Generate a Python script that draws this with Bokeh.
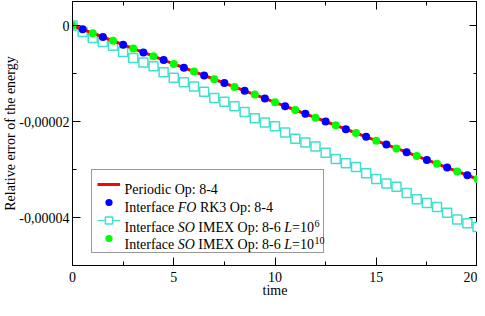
from bokeh.plotting import figure
from bokeh.models import (Range1d, LinearAxis, SingleIntervalTicker, CustomJSTickFormatter,
                          Legend, LegendItem, Label)
from bokeh.embed import file_html
from bokeh.resources import INLINE

time_all = [0, 0.5, 1, 1.5, 2, 2.5, 3, 3.5, 4, 4.5, 5, 5.5, 6, 6.5, 7, 7.5, 8, 8.5, 9, 9.5,
            10, 10.5, 11, 11.5, 12, 12.5, 13, 13.5, 14, 14.5, 15, 15.5, 16, 16.5, 17, 17.5,
            18, 18.5, 19, 19.5, 20]
periodic = [0, -0.8e-6, -1.6e-6, -2.4e-6, -3.2e-6, -4.0e-6, -4.8e-6, -5.6e-6, -6.4e-6, -7.2e-6,
            -8.0e-6, -8.8e-6, -9.6e-6, -1.04e-5, -1.12e-5, -1.2e-5, -1.28e-5, -1.36e-5, -1.44e-5,
            -1.52e-5, -1.6e-5, -1.68e-5, -1.76e-5, -1.84e-5, -1.92e-5, -2.0e-5, -2.08e-5,
            -2.16e-5, -2.24e-5, -2.32e-5, -2.4e-5, -2.48e-5, -2.56e-5, -2.64e-5, -2.72e-5,
            -2.8e-5, -2.88e-5, -2.96e-5, -3.04e-5, -3.12e-5, -3.2e-5]

time_fo = [0.5, 1.5, 2.5, 3.5, 4.5, 5.5, 6.5, 7.5, 8.5, 9.5, 10.5, 11.5, 12.5, 13.5, 14.5,
           15.5, 16.5, 17.5, 18.5, 19.5]
fo_rk3 = [-0.8e-6, -2.4e-6, -4.0e-6, -5.6e-6, -7.2e-6, -8.8e-6, -1.04e-5, -1.2e-5, -1.36e-5,
          -1.52e-5, -1.68e-5, -1.84e-5, -2.0e-5, -2.16e-5, -2.32e-5, -2.48e-5, -2.64e-5,
          -2.8e-5, -2.96e-5, -3.12e-5]

so_l6 = [0, -1.34e-6, -2.6e-6, -3.45e-6, -4.2e-6, -5.5e-6, -6.75e-6, -7.7e-6, -8.5e-6, -9.76e-6,
         -1.09e-5, -1.18e-5, -1.27e-5, -1.38e-5, -1.51e-5, -1.59e-5, -1.68e-5, -1.80e-5,
         -1.93e-5, -2.02e-5, -2.10e-5, -2.23e-5, -2.36e-5, -2.44e-5, -2.52e-5, -2.65e-5,
         -2.78e-5, -2.87e-5, -2.95e-5, -3.08e-5, -3.20e-5, -3.29e-5, -3.36e-5, -3.49e-5,
         -3.62e-5, -3.70e-5, -3.78e-5, -3.90e-5, -4.04e-5, -4.12e-5, -4.20e-5]

time_so10 = [0, 1, 2, 3, 4, 5, 6, 7, 8, 9, 10, 11, 12, 13, 14, 15, 16, 17, 18, 19, 20]
so_l10 = [0, -1.6e-6, -3.2e-6, -4.8e-6, -6.4e-6, -8.0e-6, -9.6e-6, -1.12e-5, -1.28e-5,
          -1.44e-5, -1.6e-5, -1.76e-5, -1.92e-5, -2.08e-5, -2.24e-5, -2.4e-5, -2.56e-5,
          -2.72e-5, -2.88e-5, -3.04e-5, -3.2e-5]

# legend labels as (text, italic, superscript) segments
legend_labels = [
    [("Periodic Op: 8-4", False, False)],
    [("Interface ", False, False), ("FO", True, False), (" RK3 Op: 8-4", False, False)],
    [("Interface ", False, False), ("SO", True, False), (" IMEX Op: 8-6 ", False, False),
     ("L", True, False), ("=10", False, False), ("6", False, True)],
    [("Interface ", False, False), ("SO", True, False), (" IMEX Op: 8-6 ", False, False),
     ("L", True, False), ("=10", False, False), ("10", False, True)],
]
x_title = "time"
y_title = "Relative error of the energy"

FONT = "Liberation Serif"
FSZ = 14
FS = f"{FSZ}px"
SUPSZ = 10

# Times-compatible advance widths (per 1000 em) for layout of the legend text runs
W_ROMAN = {" ": 250, "I": 333, "n": 500, "t": 278, "e": 444, "r": 333, "f": 333, "a": 444,
           "c": 444, "P": 556, "i": 278, "o": 500, "d": 500, "O": 722, "p": 500, ":": 278,
           "8": 500, "-": 333, "4": 500, "R": 667, "K": 722, "3": 500, "M": 889, "E": 611,
           "X": 722, "6": 500, "=": 564, "1": 500, "0": 500}
W_ITALIC = {"F": 611, "O": 722, "S": 500, "L": 556}

def run_width(s, italic, size):
    table = W_ITALIC if italic else W_ROMAN
    return sum(table.get(ch, 500) for ch in s) * size / 1000.0

p = figure(width=477, height=300, output_backend="svg", toolbar_location=None,
           x_range=Range1d(0, 20), y_range=Range1d(-5e-5, 5e-6),
           min_border_top=1, min_border_right=0, min_border_left=0, min_border_bottom=0)
p.grid.visible = False
p.outline_line_color = "black"
p.background_fill_color = "white"
p.border_fill_color = "white"

def style_axis(ax):
    ax.axis_line_color = "black"
    ax.major_tick_in = 8
    ax.major_tick_out = 0
    ax.minor_tick_in = 4
    ax.minor_tick_out = 0
    ax.major_tick_line_color = "black"
    ax.minor_tick_line_color = "black"
    ax.major_label_text_font = FONT
    ax.major_label_text_font_size = FS
    ax.major_label_text_color = "black"
    ax.major_label_text_line_height = 1.0
    ax.axis_label_text_font = FONT
    ax.axis_label_text_font_size = FS
    ax.axis_label_text_font_style = "normal"
    ax.axis_label_text_color = "black"
    ax.axis_label_text_line_height = 1.0

p.xaxis.ticker = SingleIntervalTicker(interval=5, num_minor_ticks=2)
p.yaxis.ticker = SingleIntervalTicker(interval=2e-5, num_minor_ticks=2)
style_axis(p.xaxis[0])
style_axis(p.yaxis[0])
p.xaxis.axis_label = x_title
p.xaxis.major_label_standoff = 6
p.xaxis.axis_label_standoff = -2
p.yaxis.axis_label = y_title
p.yaxis.major_label_standoff = 3
p.yaxis.axis_label_standoff = -2
p.yaxis.formatter = CustomJSTickFormatter(
    code="if (Math.abs(tick) < 1e-12) { return '0'; } return tick.toFixed(5).replace('.', ',');")

blank = CustomJSTickFormatter(code="return '';")
top = LinearAxis(ticker=SingleIntervalTicker(interval=5, num_minor_ticks=2), formatter=blank)
right = LinearAxis(ticker=SingleIntervalTicker(interval=2e-5, num_minor_ticks=2), formatter=blank)
for ax in (top, right):
    style_axis(ax)
    ax.major_label_standoff = 0
    ax.axis_label_standoff = 0
    ax.major_label_text_font_size = "0px"
p.add_layout(top, "above")
p.add_layout(right, "right")

turq = "#40e0d0"
r_so6_line = p.line(time_all, so_l6, line_color=turq, line_width=1.2)
r_so6_pts = p.scatter(time_all, so_l6, marker="square", size=9, line_color=turq,
                      line_width=1.5, fill_color="white")
r_per = p.line(time_all, periodic, line_color="#ff0000", line_width=3)
r_fo = p.scatter(time_fo, fo_rk3, marker="circle", size=8, line_color=None, fill_color="#0000ff")
r_so10 = p.scatter(time_so10, so_l10, marker="circle", size=8, line_color=None,
                   fill_color="#00ff00")

# legend box + glyph samples from Bokeh's Legend; text runs drawn as labels on top
LEG_X, LEG_Y = 19, 12
PAD, ROW_H, GLYPH_W, STANDOFF = 5, 18, 23, 5
LABEL_W = 193
legend = Legend(items=[
    LegendItem(label=" ", renderers=[r_per]),
    LegendItem(label=" ", renderers=[r_fo]),
    LegendItem(label=" ", renderers=[r_so6_line, r_so6_pts]),
    LegendItem(label=" ", renderers=[r_so10]),
], location=(LEG_X, LEG_Y))
legend.label_text_font = FONT
legend.label_text_font_size = FS
legend.border_line_color = "#333333"
legend.border_line_width = 1
legend.background_fill_alpha = 0
legend.padding = PAD
legend.spacing = 0
legend.margin = 0
legend.label_height = ROW_H
legend.glyph_height = ROW_H
legend.glyph_width = GLYPH_W
legend.label_standoff = STANDOFF
legend.label_width = LABEL_W
p.add_layout(legend, "center")

baseline_drop = [4, 3.5, 6, 5]
text_x0 = LEG_X + PAD + GLYPH_W + STANDOFF
n_rows = len(legend_labels)
for i, segs in enumerate(legend_labels):
    center = LEG_Y + PAD + (n_rows - 1 - i) * ROW_H + ROW_H / 2.0
    base = center - baseline_drop[i]
    x = text_x0
    for txt, ital, sup in segs:
        size = SUPSZ if sup else FSZ
        yy = base + 4 if sup else base
        xx = x + (0.5 if sup else 0)
        lead = len(txt) - len(txt.lstrip(" "))
        shown = txt.strip(" ")
        sx = xx + run_width(" " * lead, False, size)
        p.add_layout(Label(x=sx, y=yy, x_units="screen", y_units="screen", text=shown,
                           text_font=FONT, text_font_size=f"{size}px",
                           text_font_style="italic" if ital else "normal",
                           text_color="black", text_baseline="alphabetic", text_align="left",
                           level="overlay"))
        x = xx + run_width(txt, ital, size)

open("out.html", "w").write(file_html(p, INLINE))
